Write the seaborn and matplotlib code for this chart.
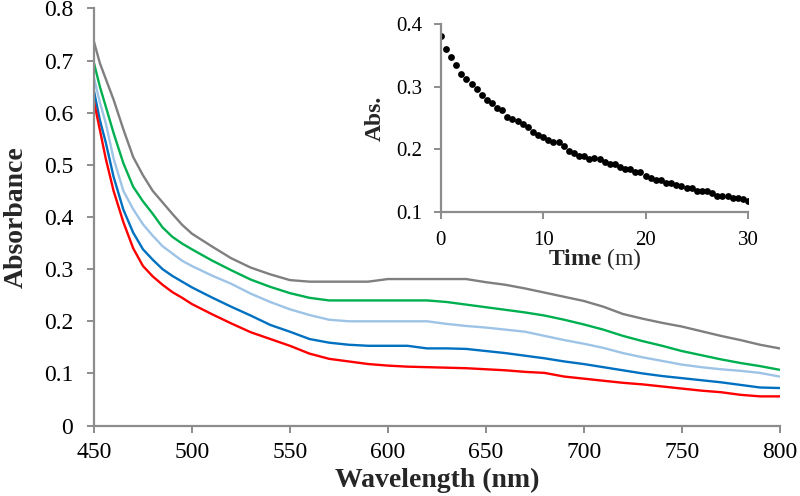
import matplotlib

matplotlib.use("Agg")
import matplotlib.pyplot as plt
import numpy as np
import pandas as pd
import seaborn as sns
from matplotlib.ticker import FuncFormatter

# Spectra (absorbance vs wavelength, nm)
wavelength = [450, 453, 456, 460, 465, 470, 475, 480, 485, 490, 495, 500,
              510, 520, 530, 540, 550, 560, 570, 580, 590, 600, 610, 620,
              630, 640, 650, 660, 670, 680, 690, 700, 710, 720, 730, 740,
              750, 760, 770, 780, 790, 800]

abs_gray = [0.736, 0.695, 0.665, 0.625, 0.568, 0.515, 0.480, 0.450, 0.428,
            0.406, 0.385, 0.368, 0.344, 0.321, 0.303, 0.290, 0.279, 0.276,
            0.276, 0.276, 0.276, 0.281, 0.281, 0.281, 0.281, 0.281, 0.275,
            0.270, 0.263, 0.255, 0.247, 0.239, 0.228, 0.214, 0.205, 0.197,
            0.190, 0.181, 0.172, 0.164, 0.155, 0.148]
abs_green = [0.695, 0.650, 0.612, 0.561, 0.503, 0.458, 0.430, 0.406, 0.380,
             0.362, 0.349, 0.338, 0.317, 0.298, 0.280, 0.266, 0.254, 0.245,
             0.240, 0.240, 0.240, 0.240, 0.240, 0.240, 0.237, 0.232, 0.227,
             0.222, 0.217, 0.211, 0.203, 0.194, 0.184, 0.172, 0.162, 0.153,
             0.143, 0.135, 0.127, 0.120, 0.114, 0.107]
abs_lightblue = [0.666, 0.620, 0.580, 0.512, 0.450, 0.415, 0.386, 0.364,
                 0.344, 0.330, 0.316, 0.306, 0.288, 0.272, 0.253, 0.237,
                 0.223, 0.212, 0.203, 0.200, 0.200, 0.200, 0.200, 0.200,
                 0.195, 0.191, 0.188, 0.184, 0.180, 0.172, 0.164, 0.157,
                 0.149, 0.139, 0.131, 0.124, 0.117, 0.112, 0.108, 0.105,
                 0.101, 0.094]
abs_blue = [0.641, 0.586, 0.543, 0.477, 0.414, 0.370, 0.338, 0.318, 0.300,
            0.287, 0.276, 0.265, 0.246, 0.228, 0.211, 0.193, 0.180, 0.166,
            0.159, 0.155, 0.153, 0.153, 0.153, 0.148, 0.148, 0.147, 0.143,
            0.139, 0.134, 0.129, 0.123, 0.118, 0.112, 0.106, 0.100, 0.095,
            0.091, 0.087, 0.083, 0.078, 0.073, 0.072]
abs_red = [0.621, 0.567, 0.512, 0.450, 0.390, 0.340, 0.306, 0.286, 0.270,
           0.256, 0.245, 0.233, 0.214, 0.196, 0.179, 0.166, 0.153, 0.138,
           0.128, 0.123, 0.118, 0.115, 0.113, 0.112, 0.111, 0.110, 0.108,
           0.106, 0.103, 0.101, 0.094, 0.090, 0.086, 0.082, 0.079, 0.075,
           0.071, 0.067, 0.064, 0.059, 0.056, 0.056]

series_names = ["gray", "green", "lightblue", "blue", "red"]
series_colors = ["#7f7f7f", "#00b050", "#9dc3e6", "#0070c0", "#ff0000"]

# Inset: absorbance vs time (min), one point every 0.5 min
time_min = np.arange(0, 30.5, 0.5)
abs_time = [0.381, 0.360, 0.347, 0.334, 0.321, 0.313, 0.304, 0.296, 0.287,
            0.279, 0.274, 0.266, 0.262, 0.252, 0.249, 0.245, 0.240, 0.235,
            0.228, 0.223, 0.219, 0.215, 0.211, 0.211, 0.206, 0.198, 0.194,
            0.189, 0.189, 0.185, 0.186, 0.184, 0.180, 0.177, 0.177, 0.172,
            0.168, 0.168, 0.164, 0.164, 0.157, 0.155, 0.151, 0.151, 0.147,
            0.147, 0.143, 0.142, 0.139, 0.138, 0.134, 0.134, 0.134, 0.131,
            0.126, 0.126, 0.126, 0.122, 0.122, 0.121, 0.118]

spectra = pd.DataFrame({
    "wavelength": wavelength * 5,
    "absorbance": abs_gray + abs_green + abs_lightblue + abs_blue + abs_red,
    "series": np.repeat(series_names, len(wavelength)),
})
kinetics = pd.DataFrame({"time": time_min, "abs": abs_time})

sns.set_style("ticks")
plt.rcParams["font.family"] = ["Liberation Serif", "DejaVu Serif"]
plt.rcParams["mathtext.fontset"] = "custom"
plt.rcParams["mathtext.rm"] = "Liberation Serif"
plt.rcParams["mathtext.bf"] = "Liberation Serif:bold"

AXIS_GRAY = "#8c8c8c"


def style_axes(ax, size, pad):
    for side in ["top", "right"]:
        ax.spines[side].set_visible(False)
    for side in ["left", "bottom"]:
        ax.spines[side].set_color(AXIS_GRAY)
        ax.spines[side].set_linewidth(1.6)
    ax.tick_params(colors=AXIS_GRAY, labelcolor="black", width=1.4,
                   length=5, labelsize=size, direction="out", pad=pad)


fig = plt.figure(figsize=(8, 4.96), dpi=100)
ax = fig.add_axes([0.1175, 0.142, 0.857, 0.841])

sns.lineplot(data=spectra, x="wavelength", y="absorbance", hue="series",
             hue_order=series_names, palette=series_colors, linewidth=1.7,
             legend=False, ax=ax)
ax.set_xlim(450, 800)
ax.set_ylim(0, 0.8)
ax.set_xticks(np.arange(450, 801, 50))
ax.set_yticks(np.arange(0, 0.81, 0.1))
ax.yaxis.set_major_formatter(FuncFormatter(lambda v, _: f"{v:.1f}" if v else "0"))
style_axes(ax, 17, 7)
ax.tick_params(axis="y", pad=10)
ax.set_xlabel("Wavelength (nm)", fontsize=20, fontweight="bold", labelpad=3)
ax.set_ylabel("Absorbance", fontsize=20, fontweight="bold", labelpad=11)

# Inset axes
ins = fig.add_axes([0.551, 0.5726, 0.384, 0.379])
ins.patch.set_alpha(0)
sns.scatterplot(data=kinetics, x="time", y="abs", color="black", s=24,
                edgecolor="black", linewidth=0, ax=ins)
ins.set_xlim(0, 30)
ins.set_ylim(0.1, 0.4)
ins.set_xticks([0, 10, 20, 30])
ins.set_yticks([0.1, 0.2, 0.3, 0.4])
ins.yaxis.set_major_formatter(FuncFormatter(lambda v, _: f"{v:.1f}"))
style_axes(ins, 15, 9)
ins.tick_params(axis="y", pad=8)
ins.set_xlabel(r"$\mathbf{Time}$ (m)", fontsize=17, labelpad=-3)
ins.set_ylabel("Abs.", fontsize=17, fontweight="bold", labelpad=8)

fig.savefig("out.png", dpi=100)
